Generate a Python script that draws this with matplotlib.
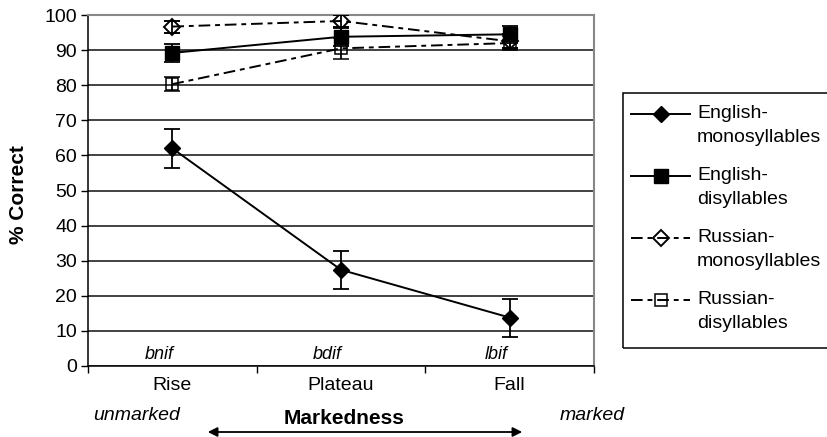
import matplotlib
matplotlib.use("Agg")
import matplotlib.pyplot as plt
from matplotlib.lines import Line2D
from matplotlib.patches import Rectangle, FancyArrowPatch

plt.rcParams['font.family'] = ['Liberation Sans', 'DejaVu Sans']

# data
conditions = ['Rise', 'Plateau', 'Fall']
items = ['bnif', 'bdif', 'lbif']
series_names = ['English-\nmonosyllables', 'English-\ndisyllables',
                'Russian-\nmonosyllables', 'Russian-\ndisyllables']

eng_mono = [62.0, 27.4, 13.8]
eng_mono_err = [5.5, 5.5, 5.4]
eng_di = [89.2, 93.8, 94.5]
eng_di_err = [2.5, 2.5, 2.5]
rus_mono = [96.7, 98.3, 92.5]
rus_mono_err = [1.7, 1.7, 2.0]
rus_di = [80.3, 90.5, 92.0]
rus_di_err = [2.0, 3.0, 2.0]

W, H = 827, 437
fig = plt.figure(figsize=(W / 100, H / 100), dpi=100)

def px(x, y):
    # pixel position (from top-left) -> figure fraction
    return x / W, 1 - y / H

ax = fig.add_axes([88 / W, 1 - 366 / H, (594 - 88) / W, (366 - 15) / H])

dashdot = (0, (6, 2.5, 2.5, 2.5))
styles = [
    dict(ls='-', marker='D', ms=8.5, mfc='black', mec='black'),
    dict(ls='-', marker='s', ms=9.5, mfc='black', mec='black'),
    dict(ls=dashdot, marker='D', ms=8, mfc='none', mec='black', mew=1.4),
    dict(ls=dashdot, marker='s', ms=8.5, mfc='none', mec='black', mew=1.1),
]
values = [eng_mono, eng_di, rus_mono, rus_di]
errors = [eng_mono_err, eng_di_err, rus_mono_err, rus_di_err]

x = [i + 1 for i in range(len(conditions))]

for vals, errs, st in zip(values, errors, styles):
    ax.errorbar(x, vals, yerr=errs, color='black', lw=1.4, capsize=5.5,
                elinewidth=1.3, capthick=1.3, zorder=3, **st)

ax.set_xlim(0.5, 3.5)
ax.set_ylim(0, 100)
ax.set_yticks(range(0, 101, 10))
ax.tick_params(axis='y', direction='out', length=5, width=1, labelsize=14, pad=3)
ax.set_xticks([0.5, 1.5, 2.5, 3.5])
ax.set_xticklabels([])
ax.tick_params(axis='x', which='major', direction='out', length=5, width=1)
ax.set_xticks(x, minor=True)
ax.set_xticklabels(conditions, minor=True, fontsize=14)
ax.tick_params(axis='x', which='minor', length=0, pad=8)

ax.yaxis.grid(True, color='#222222', lw=1.2)
ax.set_axisbelow(True)
for s in ['top', 'right']:
    ax.spines[s].set_color('#888888')
    ax.spines[s].set_linewidth(1.5)
for s in ['left', 'bottom']:
    ax.spines[s].set_color('black')
    ax.spines[s].set_linewidth(1.1)

for xi, it in zip(x, items):
    ax.text(xi - 0.08, 3.3, it, style='italic', fontsize=13, ha='center', va='center')

fig.text(*px(19, 195), '% Correct', rotation=90, fontweight='bold', fontsize=15,
         ha='center', va='center')

fig.text(*px(137, 416), 'unmarked', style='italic', fontsize=14, ha='center', va='center')
fig.text(*px(592, 416), 'marked', style='italic', fontsize=14, ha='center', va='center')
fig.text(*px(344, 419), 'Markedness', fontweight='bold', fontsize=15, ha='center', va='center')
arrow = FancyArrowPatch(px(205, 432), px(525, 432), transform=fig.transFigure,
                        arrowstyle='<|-|>', mutation_scale=14, lw=1.3, color='black')
fig.patches.append(arrow)

# legend box (Excel style: marker on the first line of each label)
fx0, fy0 = px(623, 348)
fx1, fy1 = px(830, 93)
fig.patches.append(Rectangle((fx0, fy0), fx1 - fx0, fy1 - fy0, transform=fig.transFigure,
                             fill=False, edgecolor='black', lw=1.1))
entry_y = [114, 176, 238, 300]
for name, st, ey in zip(series_names, styles, entry_y):
    xs = [px(631, ey)[0], px(660.5, ey)[0], px(690, ey)[0]]
    ys = [px(0, ey)[1]] * 3
    fig.lines.append(Line2D(xs, ys, transform=fig.transFigure, color='black', lw=1.4,
                            markevery=[1], **st))
    first, second = name.split('\n')
    fig.text(*px(697, ey), first, fontsize=14, ha='left', va='center')
    fig.text(*px(697, ey + 23), second, fontsize=14, ha='left', va='center')

fig.savefig('out.png', dpi=100)
